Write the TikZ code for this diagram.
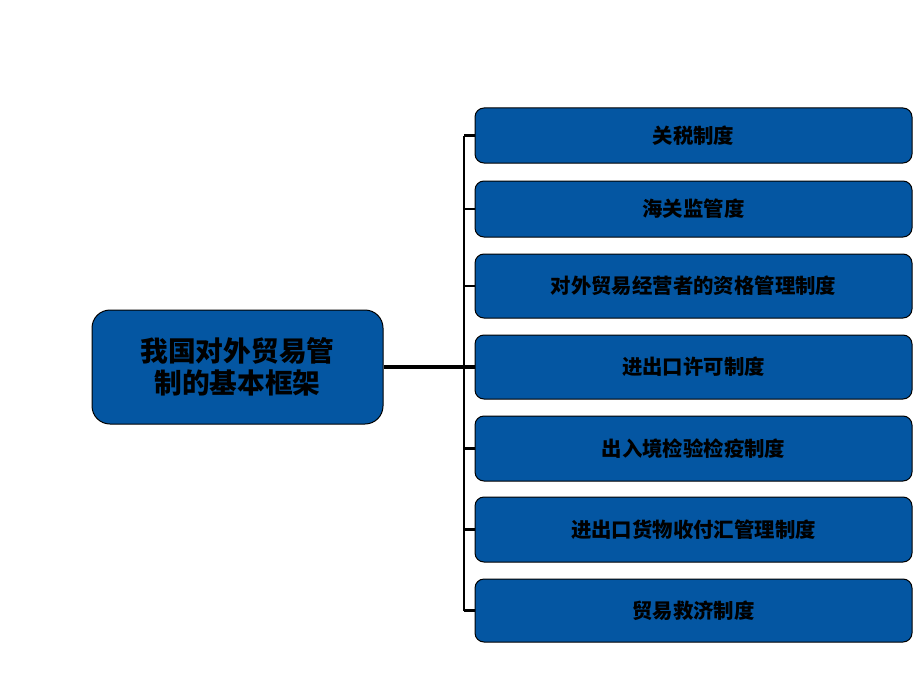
\documentclass[tikz,border=0pt]{standalone}
\usepackage{fontspec}
\setmainfont{Noto Sans CJK SC}
\usetikzlibrary{positioning}
\definecolor{boxblue}{RGB}{4,86,162}

\begin{document}
\begin{tikzpicture}[
  x=1pt, y=-1pt,
  root/.style={rectangle, rounded corners=18pt, draw, line width=1pt, fill=boxblue, minimum width=291pt, minimum height=114pt, align=center, font=\bfseries\fontsize{27.7}{32}\selectfont},
  branch/.style={rectangle, rounded corners=9pt, draw, line width=1pt, fill=boxblue, minimum width=437pt, font=\bfseries\fontsize{20.4}{24}\selectfont},
  bus/.style={line width=2.6pt},
  link/.style={line width=3.2pt}
]
\useasboundingbox (0,0) rectangle (920,690);

\node[root] (frame) at (237.5,367) {我国对外贸易管\\制的基本框架};

\node[branch, minimum height=55pt] (b1) at (693.5,135.5) {关税制度};
\node[branch, minimum height=56pt] (b2) at (693.5,209) {海关监管度};
\node[branch, minimum height=64pt] (b3) at (693.5,286) {对外贸易经营者的资格管理制度};
\node[branch, minimum height=64pt] (b4) at (693.5,367) {进出口许可制度};
\node[branch, minimum height=65pt] (b5) at (693.5,448.5) {出入境检验检疫制度};
\node[branch, minimum height=65pt] (b6) at (693.5,529.5) {进出口货物收付汇管理制度};
\node[branch, minimum height=63pt] (b7) at (693.5,610.5) {贸易救济制度};

\coordinate (hub) at (464,367);

% trunk and bus
\draw[link] (frame) -- (b4);
\draw[bus] (b1.west -| hub) -- (b7.west -| hub);
\foreach \n in {1,...,7}
  \draw[bus] (b\n.west -| hub) -- (b\n.west);
\end{tikzpicture}
\end{document}
